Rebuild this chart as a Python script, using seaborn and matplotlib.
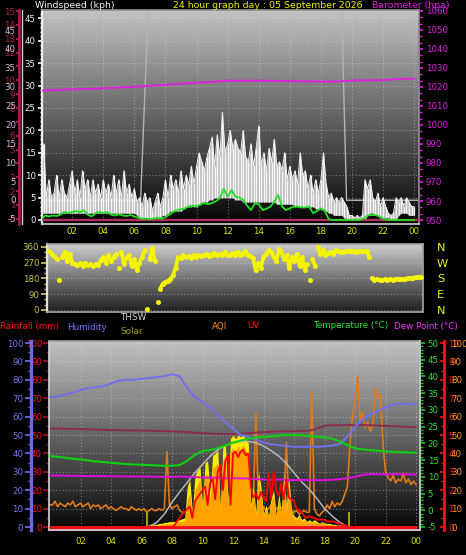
import numpy as np
import pandas as pd
import matplotlib
matplotlib.use("Agg")
import matplotlib.pyplot as plt
import seaborn as sns
from matplotlib import font_manager
from matplotlib.ticker import MultipleLocator

# ---------------------------------------------------------------- data
title_text = "24 hour graph day : 05 September 2026"
hour_ticks = [2, 4, 6, 8, 10, 12, 14, 16, 18, 20, 22, 24]
hour_labels = ["02", "04", "06", "08", "10", "12", "14", "16", "18", "20", "22", "00"]

t10 = np.arange(145) / 6.0          # 10-minute samples 00:00-24:00
t15 = np.arange(97) / 4.0           # 15-minute samples
t30 = np.arange(49) / 2.0           # 30-minute samples
t60 = np.arange(25, dtype=float)    # hourly samples
t_sun10 = 6 + np.arange(85) / 6.0   # 10-minute samples 06:00-20:00
t_sun30 = 6 + np.arange(29) / 2.0   # 30-minute samples 06:00-20:00

# wind gust (kph) upper / lower envelope, 10-minute
gust_high = [4, 17, 5, 9, 5, 6,  10, 5, 9, 6, 5, 8,  11, 6, 9, 5, 11, 7,
             9, 5, 9, 6, 8, 5,  9, 6, 8, 5, 10, 6,  9, 5, 11, 6, 8, 5,
             7, 4, 5, 3, 6, 4,  5, 2, 4, 6, 3, 5,  9, 5, 10, 7, 9, 6,
             11, 7, 10, 8, 12, 8,  12, 15, 13, 11, 14, 16,  18.5, 12, 19, 14, 24, 15,
             17, 20, 16, 18, 16, 15,  20, 14, 13, 17, 12, 16,  21, 12, 15, 11, 16, 13,
             18, 12, 13, 11, 15, 9,  12, 9, 11, 8, 15, 10,  11, 7, 10, 6, 9, 6,
             9, 15, 8, 5, 6, 4,  5, 4, 5, 4, 3, 1,  1, 0.5, 1, 0.5, 1, 9,
             7, 9, 5, 4, 6, 3,  5, 3, 1.5, 1, 1.5, 5,  4, 5, 3, 5, 4, 3,  3]
gust_low = [1.5, 1.5, 1.5, 1.5, 1.5, 1.5,  1.5, 1.5, 1.5, 1.5, 1.5, 1.5,
            1.5, 1.5, 1.5, 1.5, 1.5, 1.5,  1.5, 1.5, 1.5, 1.5, 1.5, 1.5,
            1.5, 1.5, 1.5, 1.5, 1.5, 1.5,  1.5, 1.5, 1.5, 1.5, 1.5, 1.5,
            1.5, 1, 0.5, 0, 0, 0,  0, 0, 0, 0, 0.5, 1,  1, 1.5, 2, 2, 2, 2,
            2, 2.5, 3, 3, 3, 3,  3, 3.5, 4, 4, 4, 4.5,  4.5, 5, 5, 5, 5, 5,
            5, 5, 5, 4.5, 4.5, 4.5,  4, 4, 4, 4, 4, 4,  4, 4, 4, 4, 4, 4,
            4, 3.5, 3.5, 3.5, 3.5, 3.5,  3.5, 3.5, 3, 3, 3, 3,  3, 3, 3, 3, 2.5, 2.5,
            2.5, 2.5, 2, 1.5, 1.5, 1,  1, 1, 1, 0.5, 0, 0,  0, 0, 0, 0, 0, 0,
            1, 1.5, 1.5, 1, 1, 0.5,  0.5, 0.5, 0.5, 0, 0, 0,  1, 1.5, 1.5, 1.5, 1, 1,  1]
# average wind speed (kph), 15-minute
wind_avg = [0, 1, 0.8, 1,  0.9, 1.2, 1.8, 1.5,  1.8, 2, 1.7, 2.2,  1.2, 0.8, 1.5, 1.8,
            1.5, 1.8, 1.2, 1,  1.3, 1, 0.9, 1.1,  0.8, 0.5, 0.3, 0.3,  0.2, 0.3, 0.5, 0.3,
            0.6, 1.2, 1.8, 2.2,  2.4, 2.6, 3, 3.2,  3, 3.4, 3.8, 3.5,  3.8, 4.2, 4.8, 7,
            5.2, 6.7, 5.2, 5.0,  4.5, 3.2, 2.2, 3.7,  3.5, 2.2, 2.5, 3,  4, 5.6, 3, 2.2,
            2.6, 3, 3, 2.8,  2.8, 3, 1.5, 2,  2.6, 2, 0.2, 0,  0, 0, 0, 0,
            0, 0, 0, 0.3,  1, 1.1, 1.1, 0.8,  0.3, 0.1, 0, 0,  0, 0, 0, 0,  0]
# barometer (hPa), hourly
barometer = [1018.1, 1018.4, 1018.7, 1019.0, 1019.3, 1019.7, 1020.1, 1020.6, 1021.1,
             1021.7, 1022.2, 1022.7, 1023.3, 1023.3, 1023.3, 1023.2, 1023.1, 1023.0,
             1022.8, 1022.9, 1023.4, 1023.5, 1023.6, 1024.2, 1024.4]
# grey trace in the wind panel
trace_hours = [0, 6.4, 6.95, 19.3, 19.65, 24.3]
trace_vals = [4.4, 4.4, 52, 52, 4.4, 4.4]

# wind direction (degrees), 10-minute
wind_dir = [335, 320, 305, 290, 170, 300,  330, 280, 320, 270, 262, 255,
            265, 250, 268, 255, 260, 250,  262, 255, 285, 300, 270, 310,
            280, 300, 320, 240, 330, 260,  300, 310, 250, 290, 225, 270,
            300, 340, 5, 290, 350, 280,  47, 120, 150, 160, 165, 175,
            200, 240, 300, 295, 310, 300,  305, 295, 310, 300, 315, 305,
            310, 320, 305, 315, 325, 310,  320, 310, 330, 315, 310, 325,
            315, 330, 310, 320, 335, 315,  305, 295, 225, 270, 240, 300,
            320, 340, 330, 300, 280, 345,  330, 290, 310, 240, 300, 280,
            320, 250, 300, 230, 260, 170,  290, 250, 360, 320, 340, 310,
            325, 330, 320, 340, 335, 330,  332, 335, 333, 335, 334, 332,
            335, 333, 334, 336, 300, 180,  172, 175, 173, 172, 174, 173,
            174, 173, 175, 176, 175, 177,  178, 180, 182, 184, 186, 188,  190]

# lower panel, 30-minute series
humidity = [70.5, 71, 72, 73, 74.5, 75.5, 76, 76.5, 78, 79.5, 80, 80, 80.5, 81, 81.5,
            82, 83, 82, 75.5, 70.5, 68, 65, 60.5, 57, 53.5, 50, 49, 47.5, 46, 45, 44.5,
            44, 43.6, 43.6, 43.6, 43.6, 43.8, 44.3, 45, 49, 54.5, 58.5, 61, 63, 65, 66.5,
            67, 67, 66.8]
temperature = [16.2, 16.0, 15.7, 15.4, 15.2, 14.9, 14.6, 14.4, 14.2, 14.0, 13.8, 13.7,
               13.6, 13.5, 13.4, 13.3, 13.3, 13.5, 14.8, 16.6, 17.7, 18.0, 18.6, 19.4,
               20.2, 20.8, 21.4, 21.7, 21.9, 22.1, 22.3, 22.5, 22.5, 22.4, 22.2, 22.0,
               21.8, 21.4, 20.6, 19.5, 18.5, 18.2, 18.0, 17.8, 17.6, 17.5, 17.4, 17.3, 17.2]
dew_point = [10.4, 10.4, 10.3, 10.3, 10.3, 10.2, 10.2, 10.2, 10.2, 10.1, 10.1, 10.1,
             10.1, 10.1, 10.0, 10.0, 10.0, 10.1, 10.0, 9.9, 9.8, 9.7, 9.7, 9.6, 9.6,
             9.5, 9.5, 9.3, 9.2, 9.1, 9.2, 9.0, 9.0, 9.1, 9.0, 9.0, 9.0, 9.1, 9.3, 9.6,
             10.0, 10.6, 10.8, 10.8, 10.7, 10.8, 10.8, 10.7, 10.7]
indoor_series = [53.6, 53.5, 53.4, 53.3, 53.2, 53.1, 53.0, 52.8, 52.7, 52.6, 52.5, 52.5,
                 52.4, 52.3, 52.2, 52.1, 52.0, 51.8, 51.6, 51.3, 51.0, 50.8, 50.6, 50.5,
                 50.5, 50.7, 51.0, 51.3, 51.5, 51.8, 52.0, 52.0, 52.1, 52.2, 52.3, 53.5,
                 55.0, 55.3, 55.4, 55.4, 55.3, 55.4, 55.3, 55.2, 55.0, 54.8, 54.6, 54.4, 54.2]
rainfall = [0, 0, 0, 0, 0, 0, 0, 0, 0, 0, 0, 0, 0, 0, 0, 0, 0, 0, 0, 0, 0, 0, 0, 0, 0]

# solar radiation (W/m2), 10-minute 06:00-20:00
solar = [0, 0, 5, 10, 10, 15,  15, 20, 20, 25, 25, 30,  30, 30, 35, 40, 45, 50,
         220, 260, 80, 280, 310, 330,  120, 350, 360, 200, 390, 400,
         420, 100, 440, 450, 150, 480,  500, 480, 500, 490, 510, 470,
         460, 120, 220, 80, 300, 220,  70, 120, 60, 160, 200, 60,
         180, 80, 300, 120, 270, 90,  60, 50, 70, 40, 50, 30,
         40, 30, 40, 30, 20, 30,  20, 20, 20, 15, 15, 10,  10, 10, 5, 5, 0, 0,  0]
solar_orange = [0, 0, 0, 5, 5, 10,  10, 10, 15, 15, 20, 20,  20, 20, 25, 30, 30, 35,
                150, 180, 60, 200, 230, 260,  90, 280, 290, 150, 320, 330,
                350, 80, 370, 380, 120, 410,  430, 410, 440, 420, 450, 410,
                400, 100, 180, 60, 250, 180,  60, 100, 50, 140, 170, 50,
                150, 70, 260, 90, 230, 80,  50, 40, 60, 30, 40, 25,
                30, 25, 30, 25, 20, 25,  15, 15, 15, 10, 10, 10,  10, 5, 5, 5, 0, 0,  0]
solar_max = [0, 3, 25, 70, 135, 190, 243, 295, 340, 385, 420, 443, 458, 465, 465,
             458, 440, 415, 385, 345, 295, 245, 205, 155, 100, 60, 25, 2, 0]
uv_index = [0, 0, 0, 0, 0, 0,  0, 0, 0, 0, 0, 0,  0, 0.1, 0.3, 0.5, 0.7, 0.8,
            1.0, 1.1, 0.5, 1.4, 1.6, 1.8,  2.0, 2.2, 1.2, 2.4, 2.6, 1.5,
            3.0, 3.4, 2.0, 3.6, 3.9, 1.2,  4.0, 4.1, 3.8, 4.1, 4.2, 3.9,
            4.0, 2.2, 1.6, 1.8, 1.5, 1.9,  1.6, 1.4, 2.9, 1.5, 3.0, 2.0,
            1.7, 2.4, 1.5, 2.6, 1.6, 1.5,  1.4, 1.0, 0.9, 0.8, 0.6, 0.5,
            0.6, 0.5, 0.5, 0.4, 0.4, 0.4,  0.4, 0.3, 0.3, 0.3, 0.3, 0.2,
            0.2, 0.1, 0.1, 0.05, 0, 0,  0]
# air quality index, 10-minute
aqi = [12, 12, 14, 11, 13, 12,  11, 13, 12, 14, 11, 12,  13, 11, 12, 13, 10, 12,
       11, 12, 10, 11, 12, 10,  11, 10, 9, 10, 11, 10,  10, 9, 11, 10, 9, 10,
       9, 10, 8, 9, 10, 9,  9, 10, 9, 10, 41, 12,  10, 11, 12, 9, 8, 8,
       9, 10, 10, 11, 10, 11,  11, 12, 10, 11, 12, 10,  10, 11, 12, 10, 11, 12,
       11, 10, 12, 11, 10, 11,  12, 10, 14, 62, 12, 10,  11, 9, 10, 12, 9, 10,
       11, 10, 12, 46, 10, 9,  8, 9, 7, 8, 9, 8,  8, 74, 10, 7, 6, 8,
       9, 12, 10, 14, 11, 13,  12, 14, 18, 22, 45, 60,  69, 82, 58, 62, 54, 57,
       52, 55, 76, 70, 72, 45,  30, 27, 25, 28, 24, 26,  25, 29, 24, 26, 23, 25,  23]
sun_events = [6.33, 19.6]

# secondary left scales in the wind panel
scale_a_labels = ["0", "1", "2", "3", "", "5", "6", "", "8", "9", "10", "", "12", "13", "14", "15"]
scale_b_ticks = [-5, 0, 5, 10, 15, 20, 25, 30, 35, 40, 45]
compass_labels = ["N", "E", "S", "W", "N"]

# ---------------------------------------------------------------- style
sns.set_theme(style="dark", rc={"axes.facecolor": "black", "figure.facecolor": "black",
                                "savefig.facecolor": "black"})
names = {f.name for f in font_manager.fontManager.ttflist}
if "Liberation Sans Narrow" in names:
    FONT, FS, TF1, TF2 = "Liberation Sans Narrow", 7.6, 8.2, 7.8
else:
    FONT, FS, TF1, TF2 = "DejaVu Sans", 6.2, 6.75, 6.3
plt.rcParams["font.family"] = [FONT, "DejaVu Sans"]
plt.rcParams["axes.unicode_minus"] = False

W, H = 466, 555
fig = plt.figure(figsize=(W / 100, H / 100), dpi=100, facecolor="black")


def rect(x0, y0, x1, y1):
    return [x0 / W, 1 - y1 / H, (x1 - x0) / W, (y1 - y0) / H]


def gradient(ax, lo, hi):
    xl, yl = ax.get_xlim(), ax.get_ylim()
    g = np.linspace(lo, hi, 256).reshape(-1, 1)
    ax.imshow(g, extent=[xl[0], xl[1], yl[0], yl[1]], origin="lower", aspect="auto",
              cmap="gray", vmin=0, vmax=1, zorder=0, interpolation="bilinear")
    ax.set_xlim(xl)
    ax.set_ylim(yl)


def clean(ax):
    ax.set_xlabel("")
    ax.set_ylabel("")
    if ax.get_legend() is not None:
        ax.get_legend().remove()


GRID = dict(color="#d8d8d8", alpha=0.45, linestyle=(0, (1, 2)), linewidth=0.8)
YEL = "#e4e400"

# ---------------------------------------------------------------- top panel
ax_top = fig.add_axes(rect(42, 10, 419, 224))
ax_top.set_xlim(0.06, 24.31)
ax_top.set_ylim(-0.9, 46.85)
gradient(ax_top, 0.02, 0.76)
ax_top.set_axisbelow(True)
ax_top.set_xticks(hour_ticks)
ax_top.set_xticklabels(hour_labels)
ax_top.set_yticks(range(0, 46, 5))
ax_top.yaxis.set_minor_locator(MultipleLocator(1))
ax_top.grid(True, which="major", **GRID)

sns.lineplot(x=trace_hours, y=trace_vals, ax=ax_top, color="#b4b4b4", linewidth=1.0,
             estimator=None, zorder=2)
ax_top.fill_between(t10, gust_low, gust_high, color="#dcdcdc", alpha=0.85, linewidth=0,
                    zorder=2.5)
ax_top.vlines(t10, gust_low, gust_high, colors="#f6f6f6", linewidth=0.9, zorder=3)
sns.lineplot(x=t10, y=gust_high, ax=ax_top, color="#f0f0f0", linewidth=0.7,
             estimator=None, zorder=3)
ax_top.axhline(0, color="#b03060", linewidth=1.6, zorder=3.5)
sns.lineplot(x=t15, y=wind_avg, ax=ax_top, color="#22e022", linewidth=1.3,
             estimator=None, zorder=4)
clean(ax_top)
ax_top.set_xlim(0.06, 24.31)
ax_top.set_ylim(-0.9, 46.85)
ax_top.tick_params(axis="x", colors="#808080", labelcolor=YEL, labelsize=FS, length=2,
                   pad=0.5)
ax_top.tick_params(axis="y", which="major", colors="#f0f0f0", labelsize=FS, length=3, pad=1.5)
ax_top.tick_params(axis="y", which="minor", colors="#f0f0f0", length=1.5)
for s, c in [("left", "#f0f0f0"), ("bottom", "#c8c8c8"), ("right", "#909090"),
             ("top", "#909090")]:
    ax_top.spines[s].set_color(c)
ax_top.spines["left"].set_linewidth(1.6)

ax_baro = ax_top.twinx()
sns.lineplot(x=t60, y=barometer, ax=ax_baro, color="#e020e0", linewidth=1.4, estimator=None)
clean(ax_baro)
ax_baro.set_ylim(947.9, 1060.5)
ax_baro.set_yticks(range(950, 1061, 10))
ax_baro.yaxis.set_minor_locator(MultipleLocator(10 / 3))
ax_baro.tick_params(axis="y", which="major", colors="#e020e0", labelsize=FS, length=3, pad=2)
ax_baro.tick_params(axis="y", which="minor", colors="#e020e0", length=2)
for s in ["left", "top", "bottom", "right"]:
    ax_baro.spines[s].set_visible(False)

# secondary left scales
ax_sa = ax_top.twinx()
ax_sa.set_ylim(-0.375, 15.08)
ax_sa.yaxis.tick_left()
ax_sa.spines["left"].set_position(("axes", (18.7 - 42) / 377))
ax_sa.spines["left"].set_color("#b01848")
ax_sa.spines["left"].set_linewidth(2.0)
for s in ["top", "bottom", "right"]:
    ax_sa.spines[s].set_visible(False)
ax_sa.set_yticks(range(16))
ax_sa.set_yticklabels(scale_a_labels)
ax_sa.tick_params(axis="y", colors="#b8204c", labelsize=FS, length=2, pad=0.5)

ax_sb = ax_top.twinx()
ax_sb.set_ylim(-6.36, 50.3)
ax_sb.yaxis.tick_left()
ax_sb.spines["left"].set_position(("axes", (21.7 - 42) / 377))
ax_sb.spines["left"].set_color("#d0d0d0")
ax_sb.spines["left"].set_linewidth(1.0)
for s in ["top", "bottom", "right"]:
    ax_sb.spines[s].set_visible(False)
ax_sb.set_yticks(scale_b_ticks)
ax_sb.tick_params(axis="y", colors="#d4b8dc", labelsize=FS, length=0, pad=4.2)

# ---------------------------------------------------------------- middle panel
ax_mid = fig.add_axes(rect(47, 244, 423, 312))
ax_mid.set_xlim(-0.13, 24.13)
ax_mid.set_ylim(-11.4, 375.4)
gradient(ax_mid, 0.12, 0.80)
ax_mid.set_axisbelow(True)
ax_mid.set_xticks(hour_ticks)
ax_mid.set_xticklabels([])
ax_mid.set_yticks([0, 90, 180, 270, 360])
ax_mid.yaxis.set_minor_locator(MultipleLocator(30))
ax_mid.grid(True, which="major", axis="y", **GRID)

# connect neighbouring readings, leave jumps as separate dots
wd = np.asarray(wind_dir, dtype=float)
breaks = np.where(np.abs(np.diff(wd)) > 70)[0] + 1
for run in np.split(np.arange(len(wd)), breaks):
    if len(run) > 1:
        sns.lineplot(x=t10[run], y=wd[run], ax=ax_mid, color="#f4f400", linewidth=2.6,
                     estimator=None, zorder=3)
sns.scatterplot(x=t10, y=wind_dir, ax=ax_mid, color="#f4f400", s=13, linewidth=0,
                zorder=3)
clean(ax_mid)
ax_mid.set_xlim(-0.13, 24.13)
ax_mid.set_ylim(-11.4, 375.4)
ax_mid.tick_params(axis="x", length=0)
ax_mid.tick_params(axis="y", which="major", colors="#c8c850", labelsize=FS, length=4, pad=1.5)
ax_mid.tick_params(axis="y", which="minor", colors="#c8c850", length=2)
for s in ["left", "bottom", "right", "top"]:
    ax_mid.spines[s].set_color("#a0a0a0")
ax_mid.spines["left"].set_color("#e0e0e0")
ax_mid.spines["left"].set_linewidth(1.6)

ax_cmp = ax_mid.twinx()
ax_cmp.set_ylim(-11.4, 375.4)
ax_cmp.set_yticks([0, 90, 180, 270, 360])
ax_cmp.set_yticklabels(compass_labels)
ax_cmp.tick_params(axis="y", colors="#f0f000", labelsize=FS + 2, length=0, pad=10)
for s in ["left", "top", "bottom", "right"]:
    ax_cmp.spines[s].set_visible(False)

# ---------------------------------------------------------------- bottom panel
BY = (-1.63, 101.1)
ax_bot = fig.add_axes(rect(49, 341, 420, 530))
ax_bot.set_xlim(-0.066, 24.26)
ax_bot.set_ylim(*BY)
gradient(ax_bot, 0.03, 0.76)
ax_bot.set_axisbelow(True)
ax_bot.set_xticks(hour_ticks)
ax_bot.set_xticklabels(hour_labels)
ax_bot.set_yticks(range(0, 101, 10))
ax_bot.yaxis.set_minor_locator(MultipleLocator(5))
ax_bot.grid(True, which="major", **GRID)

sns.lineplot(x=t10, y=aqi, ax=ax_bot, color="#e07a18", linewidth=1.2, estimator=None,
             zorder=1.5)
ax_bot.fill_between(t_sun10, 0, np.asarray(solar) / 10, color="#f8ec00", linewidth=0,
                    zorder=2)
ax_bot.fill_between(t_sun10, 0, np.asarray(solar_orange) / 10, color="#ffa200",
                    linewidth=0, zorder=2.1)
sns.lineplot(x=t30, y=indoor_series, ax=ax_bot, color="#8c2c4c", linewidth=1.4,
             estimator=None, zorder=2.5)
sns.lineplot(x=t30, y=humidity, ax=ax_bot, color="#7070f0", linewidth=1.4,
             estimator=None, zorder=3)
sns.lineplot(x=t_sun30, y=np.asarray(solar_max) / 10, ax=ax_bot, color="#b8b8b8",
             linewidth=1.1, estimator=None, zorder=3)
sns.lineplot(x=t60, y=rainfall, ax=ax_bot, color="#ff1010", linewidth=2.0,
             estimator=None, zorder=3.2)
ax_bot.vlines(sun_events, 0, 8, colors="#a8a810", linewidth=1.4, zorder=3.3)
clean(ax_bot)
ax_bot.set_xlim(-0.066, 24.26)
ax_bot.set_ylim(*BY)
ax_bot.tick_params(axis="x", length=0, labelcolor=YEL, labelsize=FS, pad=5)
ax_bot.tick_params(axis="y", which="major", colors="#a01030", labelcolor="#ff1010",
                   labelsize=FS, length=4, pad=1)
ax_bot.tick_params(axis="y", which="minor", colors="#a01030", length=2.5)
for s, c in [("left", "#d0d0d0"), ("bottom", "#d8b0c8"), ("right", "#c0c0c0"),
             ("top", "#a0a0a0")]:
    ax_bot.spines[s].set_color(c)
ax_bot.spines["bottom"].set_linewidth(1.5)

# humidity scale (blue, offset left)
ax_hum = ax_bot.twinx()
ax_hum.set_ylim(*BY)
ax_hum.yaxis.tick_left()
ax_hum.spines["left"].set_position(("axes", (30.5 - 49) / 371))
ax_hum.spines["left"].set_color("#6a6ae8")
ax_hum.spines["left"].set_linewidth(2.4)
for s in ["top", "bottom", "right"]:
    ax_hum.spines[s].set_visible(False)
ax_hum.set_yticks(range(0, 101, 10))
ax_hum.yaxis.set_minor_locator(MultipleLocator(5))
ax_hum.tick_params(axis="y", which="major", colors="#6a6ae8", labelcolor="#7878f0",
                   labelsize=FS, length=4, pad=1.2)
ax_hum.tick_params(axis="y", which="minor", colors="#6a6ae8", length=2.5)

# temperature / dew point (green, right)
ax_tmp = ax_bot.twinx()
sns.lineplot(x=t30, y=dew_point, ax=ax_tmp, color="#e010e0", linewidth=1.4, estimator=None)
sns.lineplot(x=t30, y=temperature, ax=ax_tmp, color="#10d010", linewidth=1.5,
             estimator=None)
clean(ax_tmp)
ax_tmp.set_ylim(-5.9, 50.6)
ax_tmp.set_yticks(range(-5, 51, 5))
ax_tmp.yaxis.set_minor_locator(MultipleLocator(1))
ax_tmp.tick_params(axis="y", which="major", colors="#20c020", labelcolor="#30e030",
                   labelsize=FS, length=3.5, pad=2)
ax_tmp.tick_params(axis="y", which="minor", colors="#20c020", length=2)
for s in ["left", "top", "bottom"]:
    ax_tmp.spines[s].set_visible(False)
ax_tmp.spines["right"].set_color("#c0c0c0")

# UV index (red) on the outer right scale
ax_uv = ax_bot.twinx()
sns.lineplot(x=t_sun10, y=uv_index, ax=ax_uv, color="#ff0000", linewidth=1.3,
             estimator=None)
clean(ax_uv)
ax_uv.set_ylim(BY[0] / 10, BY[1] / 10)
ax_uv.spines["right"].set_position(("axes", (444 - 49) / 371))
ax_uv.spines["right"].set_color("#ff1010")
ax_uv.spines["right"].set_linewidth(2.0)
for s in ["left", "top", "bottom"]:
    ax_uv.spines[s].set_visible(False)
ax_uv.set_yticks(range(0, 11))
ax_uv.yaxis.set_minor_locator(MultipleLocator(0.5))
ax_uv.tick_params(axis="y", which="major", direction="in", colors="#ff1010",
                  labelcolor="#ff1a1a", labelsize=FS, length=3, pad=3)
ax_uv.tick_params(axis="y", which="minor", direction="in", colors="#ff1010", length=2)

# AQI labels (orange) on the same outer scale
ax_aq = ax_bot.twinx()
ax_aq.set_ylim(*BY)
ax_aq.spines["right"].set_position(("axes", (444 - 49) / 371))
for s in ["left", "top", "bottom", "right"]:
    ax_aq.spines[s].set_visible(False)
ax_aq.set_yticks(range(0, 101, 10))
ax_aq.tick_params(axis="y", colors="#ff9820", labelsize=FS, length=0, pad=5)

# ---------------------------------------------------------------- texts
def ftext(x, y, s, color, size):
    fig.text(x / W, 1 - y / H, s, color=color, fontsize=size, va="center", ha="left")


ftext(35, 6, "Windspeed (kph)", "#f4f4f4", TF1)
ftext(173, 6, title_text, "#f0f000", TF1)
ftext(372, 6, "Barometer (hpa)", "#e020e0", TF1)
ftext(0, 327, "Rainfall (mm)", "#ff1010", TF2)
ftext(67, 327, "Humidity", "#7878ff", TF2)
ftext(120, 318, "THSW", "#d8d8d8", TF2)
ftext(120, 332, "Solar", "#a8a818", TF2)
ftext(212, 326, "AQI", "#ff9020", TF2)
ftext(247, 326, "UV", "#ff1010", TF2)
ftext(313, 326, "Temperature (\u00b0C)", "#30e030", TF2)
ftext(394, 326, "Dew Point (\u00b0C)", "#ff30ff", TF2)

fig.savefig("out.png", dpi=100, facecolor="black")
